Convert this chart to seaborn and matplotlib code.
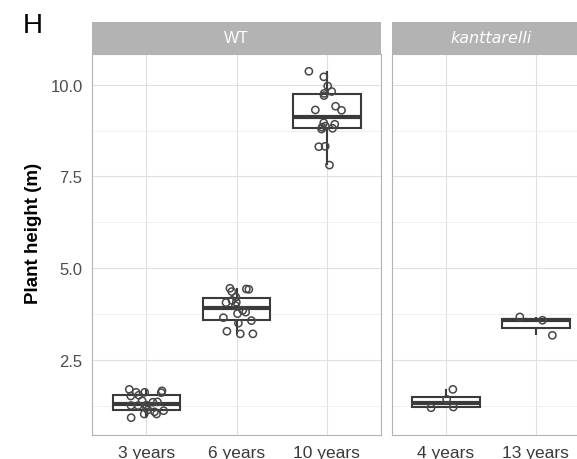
import numpy as np
import pandas as pd
import matplotlib
matplotlib.use("Agg")
import matplotlib.pyplot as plt
from matplotlib.ticker import MultipleLocator, FormatStrFormatter
import seaborn as sns

# plant heights (m)
wt_3y = [0.94, 1.04, 1.04, 1.10, 1.13, 1.15, 1.21, 1.27, 1.27, 1.28,
         1.36, 1.37, 1.40, 1.53, 1.55, 1.62, 1.63, 1.63, 1.67, 1.71]
wt_6y = [3.22, 3.22, 3.29, 3.51, 3.58, 3.66, 3.77, 3.81, 3.86, 3.99,
         4.07, 4.08, 4.13, 4.22, 4.37, 4.43, 4.44, 4.46]
wt_10y = [7.81, 8.31, 8.32, 8.79, 8.81, 8.84, 8.87, 8.92, 8.96, 9.30,
          9.31, 9.41, 9.70, 9.76, 9.81, 9.96, 10.21, 10.36]
kan_4y = [1.21, 1.23, 1.44, 1.71]
kan_13y = [3.18, 3.59, 3.68]

wt_ages = ["3 years", "6 years", "10 years"]
kan_ages = ["4 years", "13 years"]
panels = ["WT", "kanttarelli"]

rows = []
for age, vals in zip(wt_ages, [wt_3y, wt_6y, wt_10y]):
    rows += [("WT", age, v) for v in vals]
for age, vals in zip(kan_ages, [kan_4y, kan_13y]):
    rows += [("kanttarelli", age, v) for v in vals]
df = pd.DataFrame(rows, columns=["genotype", "age", "height"])

sns.set_theme(style="white")
plt.rcParams["font.family"] = ["Liberation Sans", "DejaVu Sans"]

W, H = 577, 460
fig = plt.figure(figsize=(W / 100, H / 100), dpi=100)


def px_axes(x0, y0, x1, y1):
    return fig.add_axes([x0 / W, 1 - y1 / H, (x1 - x0) / W, (y1 - y0) / H])


lo, hi = df["height"].min(), df["height"].max()
pad = 0.05 * (hi - lo)

boxes = [(92.3, 381.0, wt_ages), (391.7, 590.0, kan_ages)]
np.random.seed(7)
for i, (name, (x0, x1, ages)) in enumerate(zip(panels, boxes)):
    ax = px_axes(x0, 55, x1, 436)
    sub = df[df["genotype"] == name]
    sns.boxplot(data=sub, x="age", y="height", order=ages, ax=ax, width=0.75,
                color="white", linecolor="#3A3A3A", linewidth=1.5,
                showfliers=False, medianprops={"linewidth": 3.0},
                capprops={"visible": False})
    sns.stripplot(data=sub, x="age", y="height", order=ages, ax=ax,
                  jitter=0.2, size=5.2, color="#4D4D4D", linewidth=1.1)
    for c in ax.collections:
        c.set_facecolor("none")
        c.set_edgecolor("#474747")

    ax.set_xlim(-0.6, len(ages) - 0.4)
    ax.set_ylim(lo - pad, hi + pad)
    ax.yaxis.set_major_locator(MultipleLocator(2.5))
    ax.yaxis.set_minor_locator(MultipleLocator(1.25))
    ax.yaxis.set_major_formatter(FormatStrFormatter("%.1f"))
    ax.set_axisbelow(True)
    ax.grid(True, which="major", color="#E0E0E0", linewidth=0.8)
    ax.grid(True, which="minor", axis="y", color="#EDEDED", linewidth=0.6)
    ax.set_xlabel("")
    ax.set_ylabel("")
    for s in ax.spines.values():
        s.set_color("#B3B3B3")
        s.set_linewidth(0.8)
    ax.tick_params(which="major", length=4, width=0.8, color="#B3B3B3")
    ax.tick_params(which="minor", length=0)
    ax.tick_params(axis="x", labelsize=12.5, labelcolor="#3A3A3A", pad=3.5)
    ax.tick_params(axis="y", labelsize=12, labelcolor="#4D4D4D", pad=3)
    if i == 1:
        ax.tick_params(axis="y", labelleft=False, length=0)

    strip = px_axes(x0, 23, x1, 55)
    strip.set_facecolor("#B3B3B3")
    strip.set_xticks([])
    strip.set_yticks([])
    for s in strip.spines.values():
        s.set_visible(False)
    if name == "WT":
        strip.text(0.5, 0.5, name, color="white", fontsize=11.5,
                   ha="center", va="center", transform=strip.transAxes)
    else:
        strip.text(0.5, 0.5, name, color="white", fontsize=11.5,
                   style="italic", family=["DejaVu Sans"],
                   ha="center", va="center", transform=strip.transAxes)

fig.text(33 / W, 1 - 233.5 / H, "Plant height (m)", rotation=90,
         ha="center", va="center", fontsize=13.5, fontweight="bold",
         color="black")
fig.text(23 / W, 1 - 33 / H, "H", fontsize=20, ha="left", va="baseline",
         color="black")

fig.savefig("out.png", dpi=100)
